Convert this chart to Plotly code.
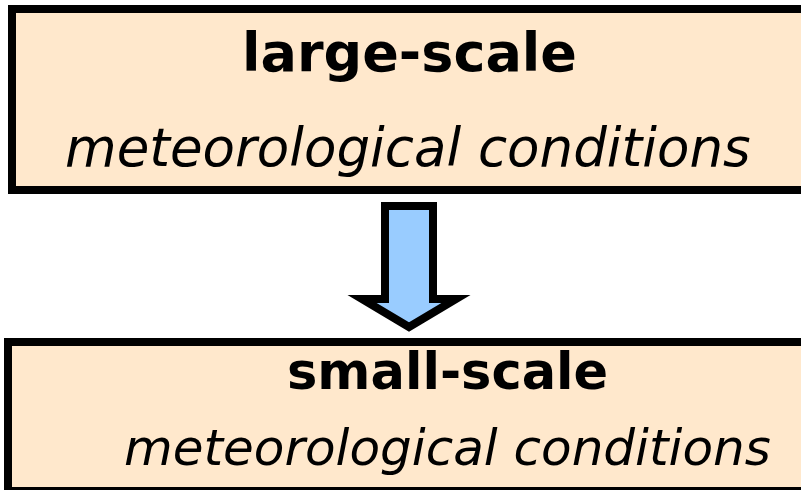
import plotly.graph_objects as go

# Diagram content
box_titles = ["large-scale", "small-scale"]
box_subtitles = ["meteorological conditions", "meteorological conditions"]

W, H = 801, 490
fill = "#FFE8CC"

fig = go.Figure()

# boxes
fig.add_shape(type="rect", x0=12, y0=9, x1=820, y1=190,
              line=dict(color="black", width=8), fillcolor=fill, layer="below")
fig.add_shape(type="rect", x0=8, y0=342, x1=820, y1=491,
              line=dict(color="black", width=8), fillcolor=fill, layer="below")

# arrow
fig.add_shape(type="path",
              path="M 385,206 L 433,206 L 433,299 L 456,299 L 409,327 L 362,299 L 385,299 Z",
              line=dict(color="black", width=8), fillcolor="#99CCFF")

font_b = dict(family="DejaVu Sans", size=54, color="black", weight="bold")
font_i = dict(family="DejaVu Sans", size=53, color="black", style="italic")

fig.add_annotation(x=409, y=52, text=box_titles[0], showarrow=False,
                   xanchor="center", yanchor="middle", font=font_b)
fig.add_annotation(x=408, y=147, text=box_subtitles[0], showarrow=False,
                   xanchor="center", yanchor="middle", font=font_i)
fig.add_annotation(x=447, y=371, text=box_titles[1], showarrow=False,
                   xanchor="center", yanchor="middle", font=dict(font_b, size=51))
fig.add_annotation(x=447, y=448, text=box_subtitles[1], showarrow=False,
                   xanchor="center", yanchor="middle", font=dict(font_i, size=50))

fig.update_xaxes(range=[0, W], visible=False, fixedrange=True)
fig.update_yaxes(range=[H, 0], visible=False, fixedrange=True)
fig.update_layout(width=W, height=H, margin=dict(l=0, r=0, t=0, b=0),
                  paper_bgcolor="white", plot_bgcolor="white", showlegend=False)

fig.write_html(
    "out.html",
    config={"displayModeBar": False},
    post_script="document.body.style.margin='0';document.body.style.overflow='hidden';",
)
